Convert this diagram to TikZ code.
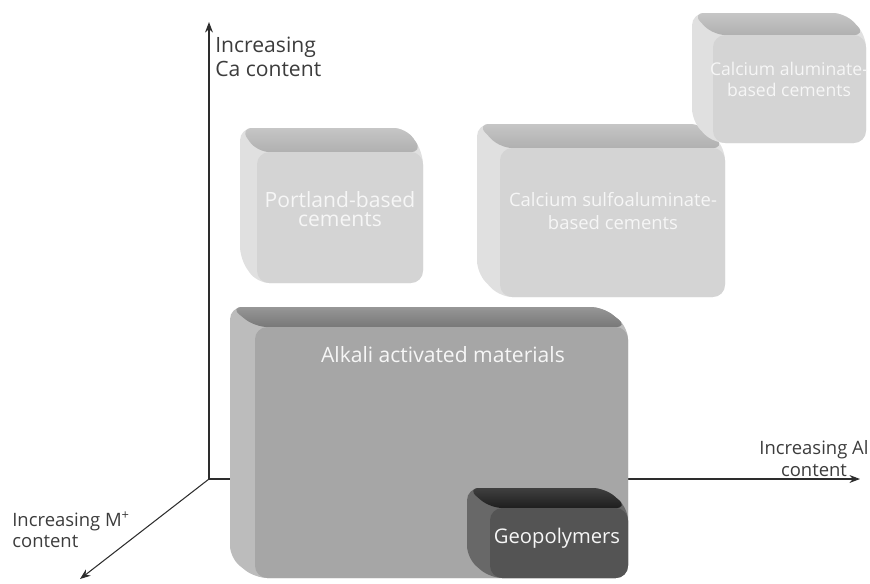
\documentclass[tikz,border=0pt]{standalone}
\usepackage{fontspec}
\setmainfont{Open Sans}
\usetikzlibrary{arrows.meta, positioning}
\definecolor{axisgray}{RGB}{45, 45, 45}
\definecolor{labelgray}{RGB}{60, 60, 60}
\definecolor{facewhite}{RGB}{246, 246, 246}
\definecolor{lightfront}{RGB}{212, 212, 212}
\definecolor{lighttop}{RGB}{176, 176, 176}
\definecolor{lightside}{RGB}{224, 224, 224}
\definecolor{midfront}{RGB}{166, 166, 166}
\definecolor{midtop}{RGB}{120, 120, 120}
\definecolor{midside}{RGB}{188, 188, 188}
\definecolor{darkfront}{RGB}{84, 84, 84}
\definecolor{darktop}{RGB}{30, 30, 30}
\definecolor{darkside}{RGB}{104, 104, 104}
\tikzset{
  >=Stealth,
  axisarrow/.style={-{Stealth[length=6pt, width=4.5pt]}, line width=0.6pt, axisgray},
  axislabel/.style={text=labelgray, inner sep=0pt},
  facelabel/.style={text=facewhite, align=center, inner sep=0pt}
}
% 3D slab: x1, y1, x2, y2 of the front face, depth dx, dy, shade prefix
\newcommand{\slab}[7]{%
  \fill[#7side, rounded corners=7pt] (#1-#5,#2-#6) -- (#3-#5,#2-#6) -- (#3,#2) -- (#3,#4) -- (#1,#4) -- (#1-#5,#4-#6) -- cycle;
  \shade[top color=#7top!55!#7side, bottom color=#7top, rounded corners=7pt] (#1-#5,#2-#6) -- (#3-#5,#2-#6) -- (#3,#2) -- (#1,#2) -- cycle;
  \fill[#7front, rounded corners=7pt] (#1,#2) rectangle (#3,#4);
}

\begin{document}
\begin{tikzpicture}[x=0.02cm, y=-0.02cm]
    \useasboundingbox (0,0) rectangle (870,583);

    % Axes
    \coordinate (origin) at (209,479);
    \coordinate (catip) at (209,22);
    \coordinate (altip) at (860,479);
    \coordinate (mtip) at (80,579);
    \draw[axisarrow] (origin) -- (catip);
    \draw[axisarrow] (origin) -- (altip);
    \draw[axisarrow] (origin) -- (mtip);

    \node[axislabel, font=\fontsize{12}{13.5}\selectfont, align=left, anchor=north west] (calabel) at (215,37) {Increasing\\Ca content};
    \node[axislabel, font=\fontsize{10.5}{12}\selectfont, align=left, anchor=west] (mlabel) at (12,530) {Increasing M\textsuperscript{+}\\content};
    \node[axislabel, font=\fontsize{10.5}{12.5}\selectfont, align=center] (allabel) at (814,459) {Increasing Al\\content};

    % Cement families
    \slab{257}{152}{423}{283}{17}{24}{light}
    \node[facelabel, font=\fontsize{12}{11}\selectfont] (portland) at (340,209) {Portland-based\\cements};

    \slab{500}{148}{725}{297}{23}{24}{light}
    \node[facelabel, font=\fontsize{10.5}{13}\selectfont] (csa) at (613,211) {Calcium sulfoaluminate-\\based cements};

    \slab{713}{35}{866}{143}{21}{22}{light}
    \node[facelabel, font=\fontsize{10}{12}\selectfont] (cac) at (789,79) {Calcium aluminate-\\based cements};

    % Alkali activated materials and geopolymers
    \slab{255}{327}{628}{578}{25}{20}{mid}
    \node[facelabel, font=\fontsize{12}{14}\selectfont] (aam) at (443,355) {Alkali activated materials};

    \slab{490}{508}{628}{578}{23}{20}{dark}
    \node[facelabel, font=\fontsize{11.5}{14}\selectfont] (geo) at (557,538) {Geopolymers};
\end{tikzpicture}
\end{document}
